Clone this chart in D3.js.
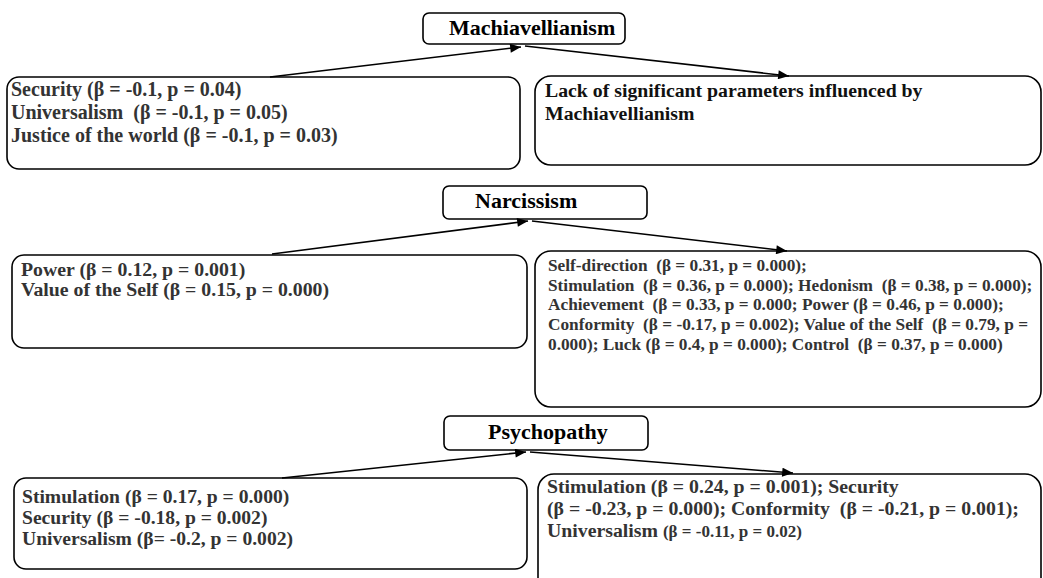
<!DOCTYPE html>
<html lang="en">
<head>
  <meta charset="UTF-8">
  <title>Dark Triad and values</title>
  <script src="https://d3js.org/d3.v7.min.js"></script>
  <style>
    body {
      margin: 0;
      background: #fff;
    }
  </style>
</head>
<body>

<svg id="diagram" width="1043" height="578"></svg>

<script>
// Data: trait names and the text of each result box
const traits = ["Machiavellianism", "Narcissism", "Psychopathy"];

const leftLines = [
  ["Security (β = -0.1, p = 0.04)",
   "Universalism  (β = -0.1, p = 0.05)",
   "Justice of the world (β = -0.1, p = 0.03)"],
  ["Power (β = 0.12, p = 0.001)",
   "Value of the Self (β = 0.15, p = 0.000)"],
  ["Stimulation (β = 0.17, p = 0.000)",
   "Security (β = -0.18, p = 0.002)",
   "Universalism (β= -0.2, p = 0.002)"]
];

const rightLines = [
  ["Lack of significant parameters influenced by",
   "Machiavellianism"],
  ["Self-direction  (β = 0.31, p = 0.000);",
   "Stimulation  (β = 0.36, p = 0.000); Hedonism  (β = 0.38, p = 0.000);",
   "Achievement  (β = 0.33, p = 0.000; Power (β = 0.46, p = 0.000);",
   "Conformity  (β = -0.17, p = 0.002); Value of the Self  (β = 0.79, p =",
   "0.000); Luck (β = 0.4, p = 0.000); Control  (β = 0.37, p = 0.000)"],
  ["Stimulation (β = 0.24, p = 0.001); Security",
   "(β = -0.23, p = 0.000); Conformity  (β = -0.21, p = 0.001);",
   ["Universalism ", "(β = -0.11, p = 0.02)"]]
];

// Layout (pixel geometry of each block)
const layout = [
  {title: {x0: 423, x1: 625, y0: 13, y1: 44, tx: 449, ty: 35, size: 22},
   left: {x0: 7, x1: 520, y0: 77, y1: 169, tx: 11, ty: 96, dy: 23, size: 20, color: "#333"},
   right: {x0: 535, x1: 1041, y0: 76, y1: 165, tx: 545, ty: 97, dy: 23, size: 19.8, color: "#111"},
   arrowL: [[270, 77], [521, 47]], arrowR: [[525, 46], [789, 76]]},
  {title: {x0: 443, x1: 647, y0: 186, y1: 219, tx: 475, ty: 208, size: 22},
   left: {x0: 12, x1: 527, y0: 255, y1: 348, tx: 21, ty: 276, dy: 20, size: 19.8, color: "#333"},
   right: {x0: 535, x1: 1041, y0: 251, y1: 407, tx: 548, ty: 271, dy: 19.7, size: 17.3, color: "#333"},
   arrowL: [[272, 254], [528, 221]], arrowR: [[532, 221], [787, 251]]},
  {title: {x0: 444, x1: 648, y0: 416, y1: 450, tx: 488, ty: 439, size: 22},
   left: {x0: 14, x1: 527, y0: 478, y1: 569, tx: 22, ty: 503, dy: 21, size: 19.6, color: "#333"},
   right: {x0: 538, x1: 1041, y0: 474, y1: 600, tx: 547, ty: 493, dy: 22, size: 19.8, color: "#333"},
   arrowL: [[282, 478], [526, 452]], arrowR: [[530, 452], [793, 473]]}
];

const FONT = "Liberation Serif";

const svg = d3.select("#diagram");

svg.append("defs").append("marker")
  .attr("id", "arrow")
  .attr("viewBox", "0 0 12 10")
  .attr("refX", 12).attr("refY", 5)
  .attr("markerWidth", 12).attr("markerHeight", 9)
  .attr("markerUnits", "userSpaceOnUse")
  .attr("orient", "auto")
  .append("path")
  .attr("d", "M0,0L12,5L0,10Z")
  .attr("fill", "#000");

const line = d3.line();

function box(g, b, r) {
  g.append("rect")
    .attr("x", b.x0).attr("y", b.y0)
    .attr("width", b.x1 - b.x0).attr("height", b.y1 - b.y0)
    .attr("rx", r).attr("ry", r)
    .attr("fill", "#fff")
    .attr("stroke", "#000")
    .attr("stroke-width", 1.6);
}

function lines(g, b, rows) {
  rows.forEach((row, i) => {
    const t = g.append("text")
      .attr("x", b.tx)
      .attr("y", b.ty + i * b.dy)
      .attr("font-family", FONT)
      .attr("font-weight", "bold")
      .attr("font-size", b.size)
      .attr("fill", b.color)
      .style("white-space", "pre");
    if (Array.isArray(row)) {
      t.append("tspan").text(row[0]);
      t.append("tspan").attr("font-size", b.size * 0.86).text(row[1]);
    } else {
      t.text(row);
    }
  });
}

traits.forEach((name, i) => {
  const L = layout[i];
  const g = svg.append("g");

  box(g, L.left, 12);
  box(g, L.right, 16);
  box(g, L.title, 6);

  g.append("text")
    .attr("x", L.title.tx)
    .attr("y", L.title.ty)
    .attr("font-family", FONT)
    .attr("font-weight", "bold")
    .attr("font-size", L.title.size)
    .attr("fill", "#000")
    .text(name);

  [L.arrowL, L.arrowR].forEach(a => {
    g.append("path")
      .attr("d", line(a))
      .attr("fill", "none")
      .attr("stroke", "#000")
      .attr("stroke-width", 1.6)
      .attr("marker-end", "url(#arrow)");
  });

  lines(g, L.left, leftLines[i]);
  lines(g, L.right, rightLines[i]);
});
</script>

</body>
</html>
